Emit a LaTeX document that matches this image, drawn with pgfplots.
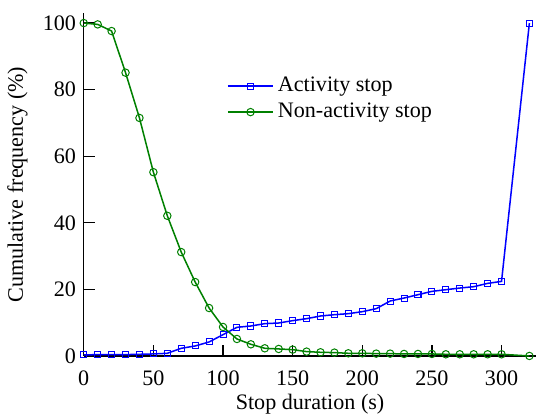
\documentclass[border=0pt]{standalone}
\usepackage{fontspec}
\setmainfont{Liberation Serif}
\usepackage{pgfplots}
\pgfplotsset{compat=1.18}
\definecolor{mygreen}{RGB}{0,128,0}
\begin{document}
\fontsize{11}{13}\selectfont
\begin{tikzpicture}
\begin{axis}[
  scale only axis,
  width=225.25pt, height=170.65pt,
  xmin=0, xmax=325, ymin=0, ymax=103,
  axis lines*=left,
  axis line style={line width=0.65pt},
  tick align=inside,
  major tick length=5.5pt,
  tick style={line width=0.65pt, black},
  xtick={0,50,...,300}, ytick={0,20,...,100},
  /pgf/number format/assume math mode=true,
  ticklabel style={font=\fontsize{11}{13}\selectfont},
  xticklabel style={yshift=-3.5pt},
  label style={font=\fontsize{11}{13}\selectfont},
  xlabel={Stop duration (s)},
  xlabel style={at={(axis description cs:0.5,0)}, anchor=center, yshift=-24pt, inner sep=0pt},
  ylabel={Cumulative frequency (\%)},
  clip=false,
  legend style={draw=none, fill=none, at={(0.316,0.826)}, anchor=north west,
    inner sep=0pt, font=\fontsize{11}{13}\selectfont, cells={anchor=west},
    row sep=0pt},
  legend image code/.code={\draw[mark repeat=2,mark phase=2] plot coordinates {(0pt,0pt) (11.25pt,0pt) (22.5pt,0pt)};},
  extra description/.code={\path (rel axis cs:0,1) ++(0,6.5pt);},
]
\addplot[blue, line width=0.75pt, mark=square, mark size=1.5pt, mark options={solid, line width=0.5pt, fill=white}]
coordinates {
(0,0.3)(10,0.4)(20,0.4)(30,0.4)(40,0.5)(50,0.6)(60,0.8)(70,2.3)(80,3.0)(90,4.2)(100,6.4)
(110,8.6)(120,9.0)(130,9.7)(140,9.9)(150,10.6)(160,11.2)(170,12.0)(180,12.4)(190,12.7)(200,13.3)
(210,14.2)(220,16.5)(230,17.4)(240,18.4)(250,19.4)(260,19.9)(270,20.4)(280,20.8)(290,21.8)(300,22.4)
(320,100)};
\addlegendentry{Activity stop}
\addplot[mygreen, line width=0.75pt, mark=o, mark size=1.85pt, mark options={solid, line width=0.5pt, fill=white}]
coordinates {
(0,100)(10,99.6)(20,97.6)(30,85.1)(40,71.5)(50,55.2)(60,42.1)(70,31.2)(80,22.2)(90,14.4)(100,8.7)
(110,5.1)(120,3.5)(130,2.3)(140,2.1)(150,1.9)(160,1.3)(170,1.1)(180,1.0)(190,0.8)(200,0.8)
(210,0.7)(220,0.7)(230,0.6)(240,0.6)(250,0.6)(260,0.5)(270,0.5)(280,0.5)(290,0.5)(300,0.5)
(320,0)};
\addlegendentry{Non-activity stop}
\end{axis}
\end{tikzpicture}
\end{document}
